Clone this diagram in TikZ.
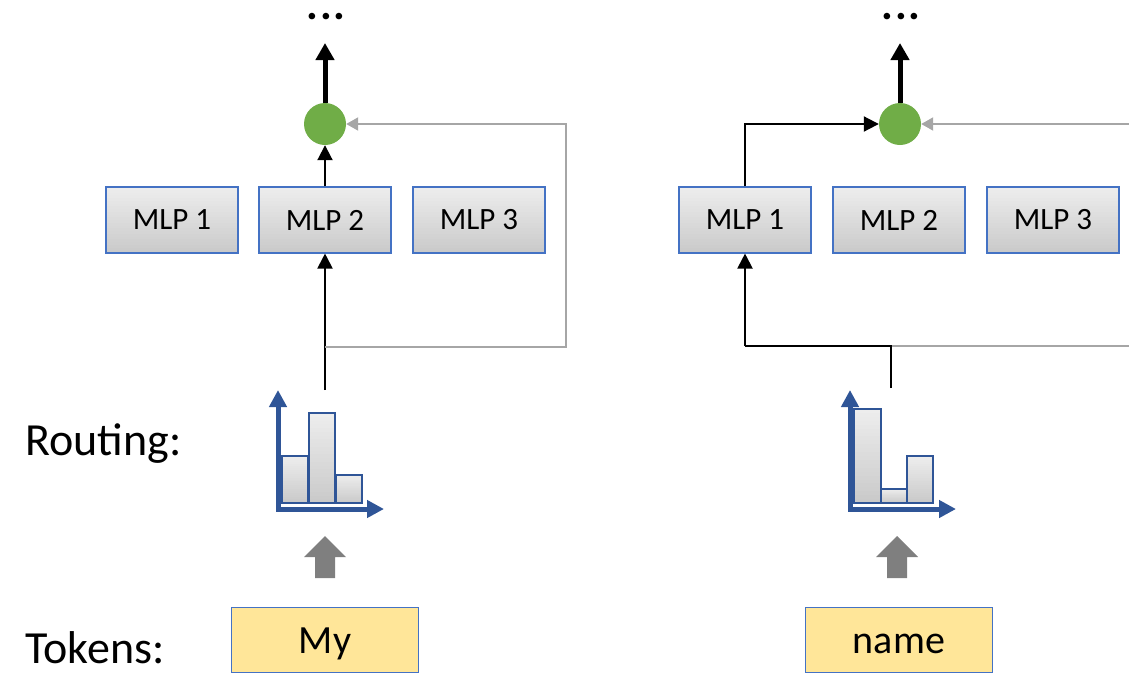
\documentclass[tikz,border=0pt]{standalone}
\usepackage{fontspec}
\setmainfont{Carlito}
\usetikzlibrary{arrows.meta,calc}
\definecolor{boxblue}{HTML}{4472C4}
\definecolor{axisblue}{HTML}{2F5597}
\definecolor{sumgreen}{HTML}{70AD47}
\definecolor{tokyellow}{HTML}{FFE699}
\definecolor{lightline}{HTML}{A6A6A6}
\definecolor{blockgray}{HTML}{7F7F7F}
\definecolor{gradtop}{HTML}{EDEDED}
\definecolor{gradbottom}{HTML}{CACACA}
\newcommand{\spreaddots}{.\kern1.5pt.\kern1.5pt.}
\tikzset{
  % vertical grey gradient built from thin horizontal bands
  grad/.style={path picture={
    \foreach \i [evaluate=\i as \p using {100-\i*100/23}] in {0,...,23}{
      \fill[gradtop!\p!gradbottom]
        ($(path picture bounding box.north west)!{\i/24}!(path picture bounding box.south west)$)
        rectangle
        ($(path picture bounding box.north east)!{(\i+1.15)/24}!(path picture bounding box.south east)$);
    }}},
  mlp/.style={grad, draw=boxblue, line width=1.1pt,
    minimum width=132pt, minimum height=66pt, inner sep=0pt, font=\fontsize{31}{36}\selectfont},
  token/.style={draw=boxblue, line width=1pt, fill=tokyellow,
    minimum width=187pt, minimum height=65pt, inner sep=0pt,
    text height=27pt, text depth=0pt, font=\fontsize{40}{46}\selectfont},
  sum/.style={circle, fill=sumgreen, minimum size=42pt, inner sep=0pt},
  label/.style={anchor=base west, inner sep=0pt, font=\fontsize{46}{52}\selectfont},
  dotsnode/.style={anchor=base, inner sep=0pt, font=\bfseries\fontsize{44}{48}\selectfont},
  blk/.style={draw=black, line width=2pt, -{Triangle[length=15pt,width=15pt]}},
  blkline/.style={draw=black, line width=2pt},
  outarrow/.style={draw=black, line width=5pt, -{Triangle[length=17pt,width=18pt]}},
  grayarrow/.style={draw=lightline, line width=2pt, -{Triangle[length=12pt,width=13pt]}},
  grayline/.style={draw=lightline, line width=2pt},
  axes/.style={draw=axisblue, line width=5pt, line join=miter,
    {Triangle[length=17pt,width=17pt]}-{Triangle[length=17pt,width=17pt]}},
  bar/.style={grad, draw=axisblue, line width=1.3pt},
  upblock/.style={fill=blockgray, draw=none}
}
\begin{document}
\begin{tikzpicture}[x=1pt, y=-1pt]
\useasboundingbox (0,0) rectangle (1129,675);

% row labels
\node[label] (routing) at (25,455) {Routing:};
\node[label] (tokens) at (25,663) {Tokens:};

% ---------- left column: token "My" ----------
\node[mlp] (l1) at (172,220) {MLP 1};
\node[mlp] (l2) at (325,220) {MLP 2};
\node[mlp] (l3) at (479,220) {MLP 3};
\node[sum] (lc) at (325,124) {};
\node[dotsnode] (ldots) at (326,19) {\spreaddots};
\coordinate (ltop) at (325,43);
\node[token] (ltok) at (325,640) {My};

% routing histogram
\draw[axes] (278,390) -- (278,509) -- (384,509);
\draw[bar] (282,456) rectangle (308,503);
\draw[bar] (309,413) rectangle (335,503);
\draw[bar] (336,475) rectangle (362,503);
\coordinate (lhist) at (325,390);
\coordinate (lsplit) at (325,347);
\coordinate (lcorner1) at (566,347);
\coordinate (lcorner2) at (566,124);

% block arrow from token to router
\path[upblock] (315,578) -- (315,557) -- (304,557) -- (325,536) -- (346,557) -- (335,557) -- (335,578) -- cycle;

\draw[blk] (lhist) -- (l2.south);
\draw[blk] (l2.north) -- (lc.south);
\draw[outarrow] (lc.north) -- (ltop);
\draw[grayarrow] (lsplit) -- (lcorner1) -- (lcorner2) -- (lc.east);

% ---------- right column: token "name" ----------
\node[mlp] (r1) at (745,220) {MLP 1};
\node[mlp] (r2) at (899,220) {MLP 2};
\node[mlp] (r3) at (1053,220) {MLP 3};
\node[sum] (rc) at (900,124) {};
\node[dotsnode] (rdots) at (901,19) {\spreaddots};
\coordinate (rtop) at (900,43);
\node[token] (rtok) at (899,640) {name};

% routing histogram
\draw[axes] (850,390) -- (850,509) -- (956,509);
\draw[bar] (854,409) rectangle (881,503);
\draw[bar] (881,489) rectangle (907,503);
\draw[bar] (907,456) rectangle (933,503);
\coordinate (rhist) at (891,388);
\coordinate (rsplit) at (891,346);
\coordinate (rbend) at (745,346);
\coordinate (redge1) at (1129,346);
\coordinate (redge2) at (1129,124);

% block arrow from token to router
\path[upblock] (887,578) -- (887,557) -- (876,557) -- (897,536) -- (918,557) -- (907,557) -- (907,578) -- cycle;

\draw[grayline] (redge1) -- (rsplit);
\draw[blkline, line join=miter] (rhist) -- (rsplit) -- (rbend);
\draw[blk] (rbend) -- (r1.south);
\draw[blk] (r1.north) |- (rc.west);
\draw[outarrow] (rc.north) -- (rtop);
\draw[grayarrow] (redge2) -- (rc.east);
\end{tikzpicture}
\end{document}
